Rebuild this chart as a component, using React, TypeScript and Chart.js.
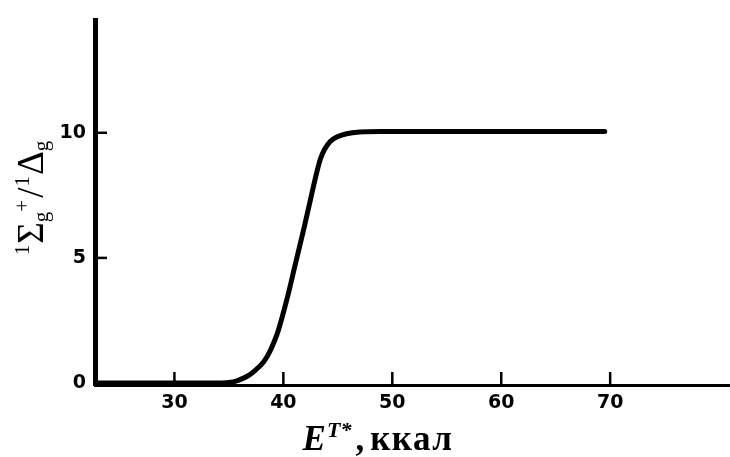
import React, { useEffect, useRef } from "react";
import { Chart, registerables } from "chart.js";

Chart.register(...registerables);

// Data
const energyKcal: number[] = [22.7, 26, 30, 34, 35, 35.8, 36.6, 37.4, 38.2, 38.8, 39.2, 39.5, 40.3, 41.1, 41.9, 42.5, 43.0, 43.4, 43.8, 44.3, 44.9, 45.8, 47, 49, 55, 60, 65, 69.5];
const ratioValues: number[] = [0, 0, 0, 0, 0.02, 0.1, 0.25, 0.5, 0.85, 1.3, 1.7, 2.05, 3.3, 4.75, 6.2, 7.35, 8.3, 8.95, 9.35, 9.65, 9.83, 9.96, 10.03, 10.05, 10.05, 10.05, 10.05, 10.05];
const xTickValues: number[] = [30, 40, 50, 60, 70];
const yTickValues: number[] = [0, 5, 10];

const X_MIN = 22.71;
const X_MAX = 81.0;
const Y_MIN = -0.078;
const Y_MAX = 14.49;

const tickFont = { family: "'DejaVu Sans'", size: 19, weight: "bold" as const };

const decorPlugin = {
  id: "decor",
  afterDraw(chart: any) {
    const ctx = chart.ctx as CanvasRenderingContext2D;
    const xs = chart.scales.x;
    const ys = chart.scales.y;
    const area = chart.chartArea;
    ctx.save();
    ctx.strokeStyle = "#000";
    // inward tick marks
    ctx.lineWidth = 2.5;
    xs.ticks.forEach((t: any) => {
      const px = xs.getPixelForValue(t.value);
      ctx.beginPath();
      ctx.moveTo(px, area.bottom);
      ctx.lineTo(px, area.bottom - 13);
      ctx.stroke();
    });
    ys.ticks.forEach((t: any) => {
      const py = ys.getPixelForValue(t.value);
      ctx.beginPath();
      ctx.moveTo(area.left, py);
      ctx.lineTo(area.left + 12, py);
      ctx.stroke();
    });

    // Y axis title: 1Σg+/1Δg (rotated)
    ctx.fillStyle = "#000";
    ctx.textBaseline = "alphabetic";
    ctx.textAlign = "left";
    const big = "37px 'Liberation Serif'";
    const small = "21px 'Liberation Serif'";
    const ySegs: [string, string, number, number][] = [
      ["1", small, -14, 1],
      ["Σ", big, 0, 0],
      ["g", small, 5, 0],
      ["+", small, -14, 2],
      ["/", big, 0, 1],
      ["1", small, -14, 1],
      ["Δ", big, 0, 0],
      ["g", small, 5, 0],
    ];
    let total = 0;
    ySegs.forEach(([t, f, , g]) => {
      ctx.font = f;
      total += ctx.measureText(t).width + g;
    });
    ctx.save();
    ctx.translate(43, 198);
    ctx.rotate(-Math.PI / 2);
    let cx = -total / 2;
    ySegs.forEach(([t, f, dy, g]) => {
      ctx.font = f;
      ctx.fillText(t, cx, dy);
      cx += ctx.measureText(t).width + g;
    });
    ctx.restore();

    // X axis title: E^{T*}, ккал
    const xSegs: [string, string, number, number, string][] = [
      ["E", "italic bold 35px 'Liberation Serif'", 0, 1, "0px"],
      ["T*", "italic bold 22px 'Liberation Serif'", -13, 4, "0px"],
      [",", "bold 35px 'Liberation Serif'", 0, 6, "0px"],
      ["ккал", "bold 35px 'Liberation Serif'", 0, 0, "1.5px"],
    ];
    let totalX = 0;
    xSegs.forEach(([t, f, , g, ls]) => {
      ctx.font = f;
      (ctx as any).letterSpacing = ls;
      totalX += ctx.measureText(t).width + g;
    });
    let tx = 378 - totalX / 2;
    xSegs.forEach(([t, f, dy, g, ls]) => {
      ctx.font = f;
      (ctx as any).letterSpacing = ls;
      ctx.fillText(t, tx, 450 + dy);
      tx += ctx.measureText(t).width + g;
    });
    (ctx as any).letterSpacing = "0px";
    ctx.restore();
  },
};

export default function App() {
  const canvasRef = useRef<HTMLCanvasElement | null>(null);

  useEffect(() => {
    if (!canvasRef.current) return;
    const points = energyKcal.map((x, i) => ({ x, y: ratioValues[i] }));
    const chart = new Chart(canvasRef.current, {
      type: "line",
      data: {
        datasets: [
          {
            data: points,
            borderColor: "#000",
            borderWidth: 5,
            borderCapStyle: "round",
            borderJoinStyle: "round",
            pointRadius: 0,
            cubicInterpolationMode: "monotone",
            fill: false,
          },
        ],
      },
      options: {
        responsive: false,
        animation: false,
        layout: { padding: { left: 0, right: 0, top: 12, bottom: 0 } },
        plugins: { legend: { display: false }, tooltip: { enabled: false }, title: { display: false } },
        scales: {
          x: {
            type: "linear",
            min: X_MIN,
            max: X_MAX,
            afterBuildTicks: (s: any) => {
              s.ticks = xTickValues.map((v) => ({ value: v }));
            },
            afterFit: (s: any) => {
              s.height = 72;
            },
            grid: { display: false, drawTicks: false },
            border: { display: true, color: "#000", width: 3 },
            ticks: { color: "#000", font: tickFont, padding: 7, maxRotation: 0 },
          },
          y: {
            type: "linear",
            min: Y_MIN,
            max: Y_MAX,
            afterBuildTicks: (s: any) => {
              s.ticks = yTickValues.map((v) => ({ value: v }));
            },
            afterFit: (s: any) => {
              s.width = 95;
            },
            grid: { display: false, drawTicks: false },
            border: { display: true, color: "#000", width: 5 },
            ticks: { color: "#000", font: tickFont, padding: 9 },
          },
        },
      },
      plugins: [decorPlugin],
    });
    return () => chart.destroy();
  }, []);

  return (
    <div style={{ position: "fixed", left: 0, top: 0, width: 730, height: 457, background: "#fff" }}>
      <canvas ref={canvasRef} width={730} height={457} />
    </div>
  );
}
